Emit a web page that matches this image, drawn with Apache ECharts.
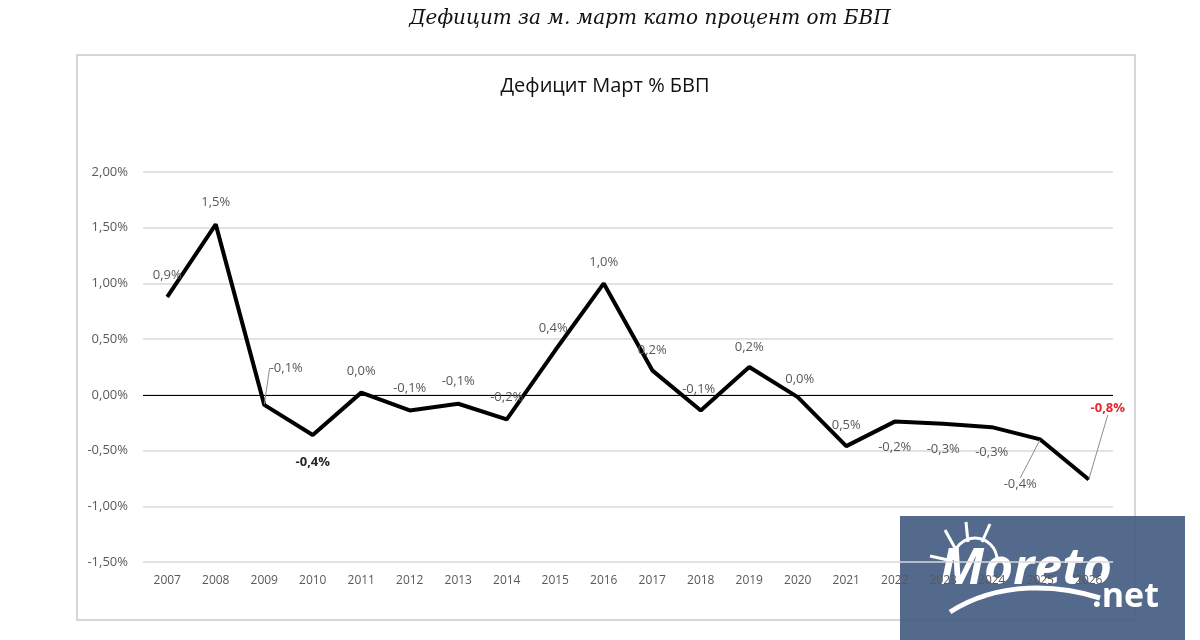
<!DOCTYPE html>
<html>
<head>
<meta charset="utf-8">
<script src="https://cdn.jsdelivr.net/npm/echarts@6/dist/echarts.min.js"></script>
<style>
  html, body { margin: 0; padding: 0; background: #fff; }
  #chart { width: 1200px; height: 640px; }
</style>
</head>
<body>
<div id="chart"></div>
<script>
// years on the x axis
var years = ['2007', '2008', '2009', '2010', '2011', '2012', '2013', '2014', '2015', '2016',
  '2017', '2018', '2019', '2020', '2021', '2022', '2023', '2024', '2025', '2026'];
// deficit for March, % of GDP
var deficit = [0.88, 1.53, -0.09, -0.36, 0.02, -0.14, -0.08, -0.22, 0.40, 1.00,
  0.22, -0.14, 0.25, -0.02, -0.46, -0.24, -0.26, -0.29, -0.40, -0.76];
// data label texts as printed on the chart
var labelTexts = ['0,9%', '1,5%', '-0,1%', '-0,4%', '0,0%', '-0,1%', '-0,1%', '-0,2%', '0,4%', '1,0%',
  '0,2%', '-0,1%', '0,2%', '0,0%', '0,5%', '-0,2%', '-0,3%', '-0,3%', '-0,4%', '-0,8%'];
var yTicks = [-1.5, -1, -0.5, 0, 0.5, 1, 1.5, 2];

// label shifts from the default 'top' spot
var labelShift = [[0, -10], [0, -10], [22, -25], [0, 39], [0, -9], [0, -10], [0, -10], [0, -10], [-2, -10], [0, -9],
  [0, -8], [-2, -9], [0, -8], [2, -6], [0, -9], [0, 38], [0, 37], [0, 37], [-20, 57], [19, -59]];
var withLeader = [2, 18, 19];

var chart = echarts.init(document.getElementById('chart'));

var seriesData = deficit.map(function (v, i) {
  var item = { value: v, label: { formatter: labelTexts[i] } };
  if (i === 3) {
    item.label.fontWeight = 'bold';
    item.label.color = '#262626';
  }
  if (i === 19) {
    item.label.fontWeight = 'bold';
    item.label.color = '#e8262c';
  }
  if (withLeader.indexOf(i) >= 0) {
    item.labelLine = { show: true, lineStyle: { color: '#8c8c8c', width: 1 } };
  }
  return item;
});

var option = {
  animation: false,
  backgroundColor: '#fff',
  textStyle: { fontFamily: 'Open Sans' },
  graphic: [
    {
      type: 'text', x: 650, y: 9,
      style: {
        text: 'Дефицит за м. март като процент от БВП', align: 'center',
        font: 'italic 20px "DejaVu Serif"', fill: '#111'
      }
    },
    {
      type: 'rect', shape: { x: 77, y: 55, width: 1058, height: 565 },
      style: { fill: 'none', stroke: '#c9c9c9', lineWidth: 1.5 }, z: -1
    },
    {
      type: 'text', x: 605, y: 76,
      style: {
        text: 'Дефицит Март % БВП', align: 'center',
        font: '20px "Open Sans"', fill: '#111'
      }
    },
    {
      type: 'group', z: 100,
      children: [
        { type: 'rect', shape: { x: 900, y: 516, width: 285, height: 124 }, style: { fill: '#475f84', opacity: 0.93 } },
        { type: 'arc', shape: { cx: 975, cy: 560, r: 22, startAngle: Math.PI, endAngle: 2 * Math.PI },
          style: { stroke: '#fff', lineWidth: 3, fill: 'none' } },
        { type: 'line', shape: { x1: 955, y1: 548, x2: 945, y2: 530 }, style: { stroke: '#fff', lineWidth: 3 } },
        { type: 'line', shape: { x1: 968, y1: 542, x2: 966, y2: 522 }, style: { stroke: '#fff', lineWidth: 3 } },
        { type: 'line', shape: { x1: 982, y1: 542, x2: 990, y2: 524 }, style: { stroke: '#fff', lineWidth: 3 } },
        { type: 'line', shape: { x1: 948, y1: 560, x2: 930, y2: 556 }, style: { stroke: '#fff', lineWidth: 3 } },
        { type: 'text', style: { x: 940, y: 545, text: 'Moreto', font: 'italic bold 50px "Open Sans"', fill: '#fff' } },
        { type: 'bezierCurve', shape: { x1: 950, y1: 612, cpx1: 1000, cpy1: 580, cpx2: 1060, cpy2: 585, x2: 1100, y2: 598 },
          style: { stroke: '#fff', lineWidth: 5, fill: 'none' } },
        { type: 'text', style: { x: 1092, y: 580, text: '.net', font: 'bold 34px "Open Sans"', fill: '#fff' } }
      ]
    }
  ],
  grid: { left: 143, right: 87, top: 172, bottom: 78, containLabel: false },
  xAxis: {
    type: 'category',
    data: years,
    boundaryGap: true,
    axisLine: { show: false },
    axisTick: { show: false },
    axisLabel: { color: '#595959', fontSize: 12, margin: 13, interval: 0 },
    splitLine: { show: false }
  },
  yAxis: {
    type: 'value',
    min: yTicks[0],
    max: yTicks[yTicks.length - 1],
    interval: 0.5,
    axisLine: { show: false },
    axisTick: { show: false },
    axisLabel: {
      color: '#595959', fontSize: 13, margin: 15,
      formatter: function (v) { return v.toFixed(2).replace('.', ',') + '%'; }
    },
    splitLine: { lineStyle: { color: '#d9d9d9', width: 1.5 } }
  },
  series: [{
    type: 'line',
    data: seriesData,
    symbol: 'circle',
    symbolSize: 1,
    showSymbol: true,
    itemStyle: { color: '#000' },
    lineStyle: { color: '#000', width: 4 },
    label: { show: true, position: 'top', distance: 5, color: '#595959', fontSize: 13 },
    labelLayout: function (p) {
      var s = labelShift[p.dataIndex];
      return { dx: s[0], dy: s[1] };
    },
    markLine: {
      silent: true,
      symbol: 'none',
      label: { show: false },
      lineStyle: { color: '#000', width: 1, type: 'solid' },
      data: [{ yAxis: 0 }],
      z: 1
    },
    z: 5
  }]
};

chart.setOption(option);
</script>
</body>
</html>
